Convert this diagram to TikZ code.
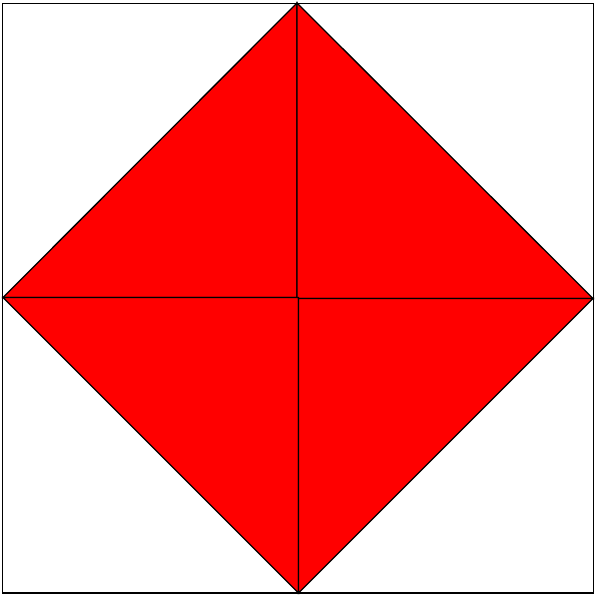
\documentclass[tikz,border=0pt]{standalone}
\usepackage{tikz}

\begin{document}
\begin{tikzpicture}[x=1pt, y=-1pt, every path/.style={line width=1.3pt},
	tri/.style={fill=red, draw=black, line join=miter}]
	\useasboundingbox (0,0) rectangle (596,597);
	\coordinate (T) at (297,3);
	\coordinate (L) at (3,297.5);
	\coordinate (R) at (593,298.5);
	\coordinate (B) at (298.5,593);
	\draw (2.5,3.5) rectangle (593.5,593);
	% four triangles
	\draw[tri] (T) -- (L) -- (297,297.5) -- cycle;
	\draw[tri] (T) -- (297,298.5) -- (R) -- cycle;
	\draw[tri] (L) -- (298.5,297.5) -- (B) -- cycle;
	\draw[tri] (298.5,298.5) -- (R) -- (B) -- cycle;
\end{tikzpicture}
\end{document}
